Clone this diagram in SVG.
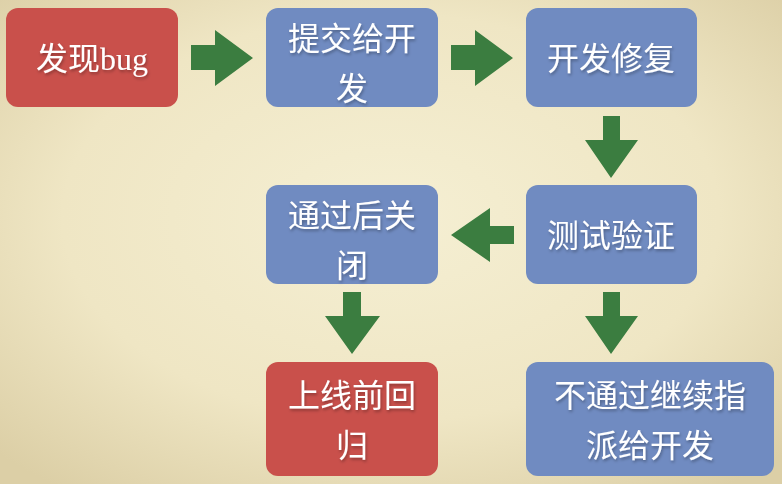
<svg xmlns="http://www.w3.org/2000/svg" width="782" height="484" viewBox="0 0 782 484">
<defs>
<radialGradient id="bg" cx="50%" cy="45%" r="70%">
<stop offset="0" stop-color="#f5efd3"/><stop offset="0.6" stop-color="#efe6c4"/><stop offset="1" stop-color="#dccfa6"/>
</radialGradient>
<filter id="sh" x="-10%" y="-10%" width="120%" height="130%"><feDropShadow dx="1" dy="2" stdDeviation="1.5" flood-opacity="0.3"/></filter>
</defs>
<style>
.r{fill:#c9504b}.b{fill:#708bc1}
text{font-family:"Liberation Serif","Noto Sans CJK SC",serif;font-size:32px;fill:#fff;text-anchor:middle;filter:url(#sh)}
.a{fill:#3b7d40}
</style>
<rect width="782" height="484" fill="url(#bg)"/>
<g id="n1"><rect class="r" x="6" y="8" width="172" height="99" rx="12"/><text x="92" y="70">发现bug</text></g>
<g id="n2"><rect class="b" x="266" y="8" width="172" height="99" rx="12"/><text x="352" y="50">提交给开</text><text x="352" y="100">发</text></g>
<g id="n3"><rect class="b" x="526" y="8" width="171" height="99" rx="12"/><text x="611" y="70">开发修复</text></g>
<g id="n4"><rect class="b" x="526" y="185" width="171" height="99" rx="12"/><text x="611" y="247">测试验证</text></g>
<g id="n5"><rect class="b" x="266" y="185" width="172" height="99" rx="12"/><text x="352" y="227">通过后关</text><text x="352" y="277">闭</text></g>
<g id="n6"><rect class="r" x="266" y="362" width="172" height="114" rx="12"/><text x="352" y="407">上线前回</text><text x="352" y="457">归</text></g>
<g id="n7"><rect class="b" x="526" y="362" width="248" height="114" rx="12"/><text x="650" y="407">不通过继续指</text><text x="650" y="457">派给开发</text></g>
<g id="connectors">
<polygon class="a" points="191,45 215,45 215,30 253,58 215,86 215,70 191,70"/>
<polygon class="a" points="451,45 475,45 475,30 513,58 475,86 475,70 451,70"/>
<polygon class="a" points="603,116 620,116 620,140 638,140 611,178 585,140 603,140"/>
<polygon class="a" points="514,226 490,226 490,208 451,235 490,262 490,244 514,244"/>
<polygon class="a" points="343,292 361,292 361,316 380,316 352,354 325,316 343,316"/>
<polygon class="a" points="603,292 620,292 620,316 638,316 611,354 585,316 603,316"/>
</g>
</svg>
